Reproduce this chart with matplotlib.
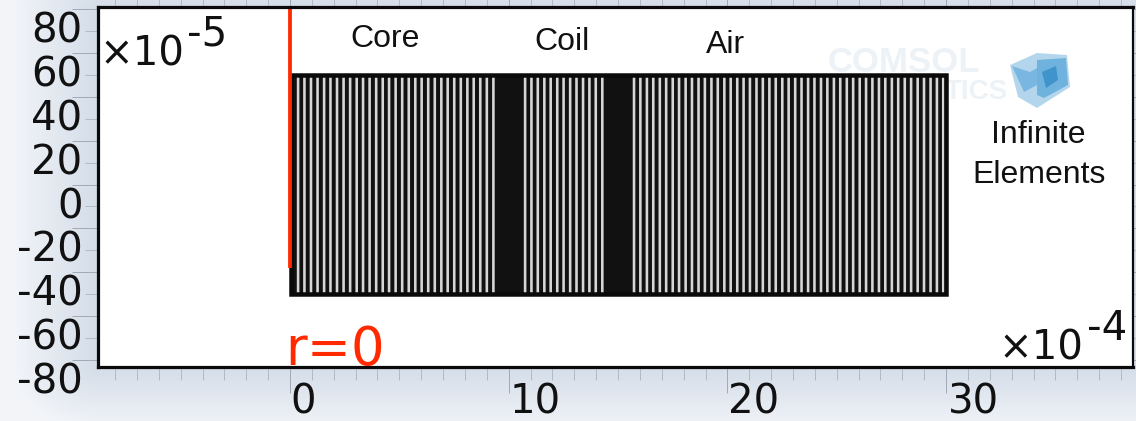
import numpy as np
import matplotlib
matplotlib.use("Agg")
import matplotlib.pyplot as plt
from matplotlib.patches import Rectangle, Polygon
from matplotlib.transforms import ScaledTranslation

W, H, DPI = 1136, 421, 100

# Values (x in 1e-4, y in 1e-5)
x_major = [0, 10, 20, 30]
x_labels = ["0", "10", "20", "30"]
x_label_shift_px = [13, 26, 26, 27]
x_minor = [-8, -7, -6, -5, -4, -3, -2, -1, 1, 2, 3, 4, 5, 6, 7, 8, 9, 11, 12, 13, 14, 15, 16, 17, 18, 19,
           21, 22, 23, 24, 25, 26, 27, 28, 29, 31, 32, 33, 34, 35, 36, 37, 38]
y_major = [80, 60, 40, 20, 0, -20, -40, -60, -80]
y_labels = ["80", "60", "40", "20", "0", "-20", "-40", "-60", "-80"]
y_minor = [70, 50, 30, 10, -10, -30, -50, -70]

domain_x = [0.05, 30]
domain_y = [-50, 50]
axis_line_y = [-38, 81]
axis_line_x = 0.02

core_gaps = [0.37, 0.66, 0.96, 1.26, 1.56, 1.85, 2.15, 2.45, 2.75, 3.05, 3.34, 3.64, 3.94, 4.24, 4.53, 4.83,
             5.13, 5.43, 5.73, 6.02, 6.32, 6.62, 6.92, 7.21, 7.51, 7.81, 8.11, 8.40, 8.70, 9.00, 9.30]
coil_gaps = [10.75, 11.04, 11.33, 11.63, 11.92, 12.22, 12.51, 12.81, 13.10, 13.40, 13.69, 13.98, 14.28]
air_gaps = [15.73, 16.02, 16.32, 16.61, 16.91, 17.20, 17.50, 17.79, 18.09, 18.38, 18.68, 18.97, 19.27, 19.56,
            19.86, 20.15, 20.45, 20.74, 21.03, 21.33, 21.62, 21.92, 22.21, 22.51, 22.80, 23.10, 23.39, 23.69,
            23.98, 24.28, 24.57, 24.87, 25.16, 25.46, 25.75, 26.05, 26.34, 26.63, 26.93, 27.22, 27.52, 27.81,
            28.11, 28.40, 28.70, 28.99, 29.29, 29.58, 29.87]

plt.rcParams["font.family"] = "DejaVu Sans"
px = 72 / DPI
fig = plt.figure(figsize=(W / DPI, H / DPI), dpi=DPI, facecolor="#eef1f5")

# Backdrop shading around the plot frame
L, R, T, B = 97.5, 1133, 7, 367
yy, xx = np.mgrid[0:H, 0:W]
dx = np.maximum(np.maximum(L - xx, xx - R), 0)
dy = np.maximum(np.maximum(T - yy, yy - B), 0)
t = np.clip(np.hypot(dx, dy * 1.4) / 85, 0, 1)[..., None]
dark = np.array([0.83, 0.865, 0.91])
light = np.array([0.95, 0.96, 0.975])
bg_ax = fig.add_axes([0, 0, 1, 1], zorder=-5)
bg_ax.imshow(dark * (1 - t) + light * t, aspect="auto", interpolation="bilinear")
bg_ax.axis("off")

ax = fig.add_axes([L / W, 1 - B / H, (R - L) / W, (B - T) / H], facecolor="white")
x0 = (L - 290) / 21.87
x1 = (R - 290) / 21.87
y_top = 80 + (9 - T) / 2.194
y_bot = 80 - (B - 9) / 2.194
ax.set_xlim(x0, x1)
ax.set_ylim(y_bot, y_top)

# Watermark behind the mesh
wm = "#edf2f6"
ax.text(0.705, 0.845, "COMSOL", transform=ax.transAxes, fontsize=25, color=wm, family="Liberation Sans",
        fontweight="bold", va="center", ha="left", zorder=0.5)
ax.text(0.818, 0.765, "TICS", transform=ax.transAxes, fontsize=20, color=wm, family="Liberation Sans",
        fontweight="bold", va="center", ha="left", zorder=0.5)


def pix(points):
    return [(p / W, 1 - q / H) for p, q in points]


for pts, col in [
    ([(1010, 65), (1037, 53), (1067, 55), (1070, 87), (1037, 108), (1018, 97)], "#b4d6ec"),
    ([(1012, 66), (1030, 72), (1037, 68), (1037, 85), (1024, 92)], "#79b7e2"),
    ([(1037, 60), (1066, 58), (1068, 85), (1044, 98), (1037, 95)], "#6fb2de"),
    ([(1042, 72), (1056, 66), (1058, 80), (1046, 88)], "#3f94cc"),
]:
    ax.add_patch(Polygon(pix(pts), closed=True, transform=fig.transFigure, facecolor=col,
                         edgecolor="none", zorder=0.6))

# Mesh block
ax.add_patch(Rectangle((domain_x[0], domain_y[0]), domain_x[1] - domain_x[0], domain_y[1] - domain_y[0],
                       facecolor="#111111", edgecolor="none", zorder=2))
gaps = ax.vlines(core_gaps + coil_gaps + air_gaps, domain_y[0], domain_y[1], colors="#d6d6d6", lw=2.6 * px, zorder=2.2)
gaps.set_snap(False)
ax.add_patch(Rectangle((domain_x[0], domain_y[0]), domain_x[1] - domain_x[0], domain_y[1] - domain_y[0],
                       facecolor="none", edgecolor="#0a0a0a", lw=4.5 * px, zorder=2.4))

# Symmetry axis
ax.plot([axis_line_x, axis_line_x], axis_line_y, color="#ff2a00", lw=3.8 * px, zorder=3,
        solid_capstyle="butt", clip_on=True)

# Spines
for side in ["left", "bottom", "top"]:
    ax.spines[side].set_linewidth(3.2 * px)
ax.spines["right"].set_linewidth(2.2 * px)
for s in ax.spines.values():
    s.set_color("#0a0a0a")
    s.set_zorder(5)

# Ticks
ax.set_xticks(x_major, x_labels)
ax.set_xticks(x_minor, minor=True)
ax.set_yticks(y_major, y_labels)
ax.set_yticks(y_minor, minor=True)
ax.tick_params(which="major", axis="both", length=26 * px, width=1 * px, color="#a2abb5", top=True, right=True,
               labelsize=29, labelcolor="#111111")
ax.tick_params(which="minor", axis="both", length=13 * px, width=1 * px, color="#b2bac3", top=True, right=True)
ax.tick_params(axis="y", which="major", pad=-11 * px)
ax.tick_params(axis="x", which="major", pad=-11 * px)

for lab, shift in zip(ax.get_xticklabels(), x_label_shift_px):
    lab.set_transform(lab.get_transform() + ScaledTranslation(shift / DPI, 0, fig.dpi_scale_trans))
for lab in ax.get_yticklabels():
    lab.set_transform(lab.get_transform() + ScaledTranslation(0, -18 / DPI, fig.dpi_scale_trans))


def ftext(xp, yp, s, **kw):
    fig.text(xp / W, 1 - yp / H, s, **kw)


sci = dict(fontsize=29, color="#111111", va="baseline", ha="left", zorder=8)
ftext(99, 65.5, "×10", **sci)
ftext(187, 45, "-5", **sci)
ftext(998, 360, "×10", **sci)
ftext(1087, 340, "-4", **sci)

helv = dict(fontsize=23, color="#111111", family="Liberation Sans", va="baseline", ha="center", zorder=8)
ftext(385, 47, "Core", **helv)
ftext(562, 50, "Coil", **helv)
ftext(725, 53, "Air", **helv)
ftext(1038, 143, "Infinite", **helv)
ftext(1039, 183, "Elements", **helv)

ftext(285, 365, "r=0", fontsize=38, color="#ff2a00", va="baseline", ha="left", zorder=4)

fig.savefig("out.png", dpi=DPI)
